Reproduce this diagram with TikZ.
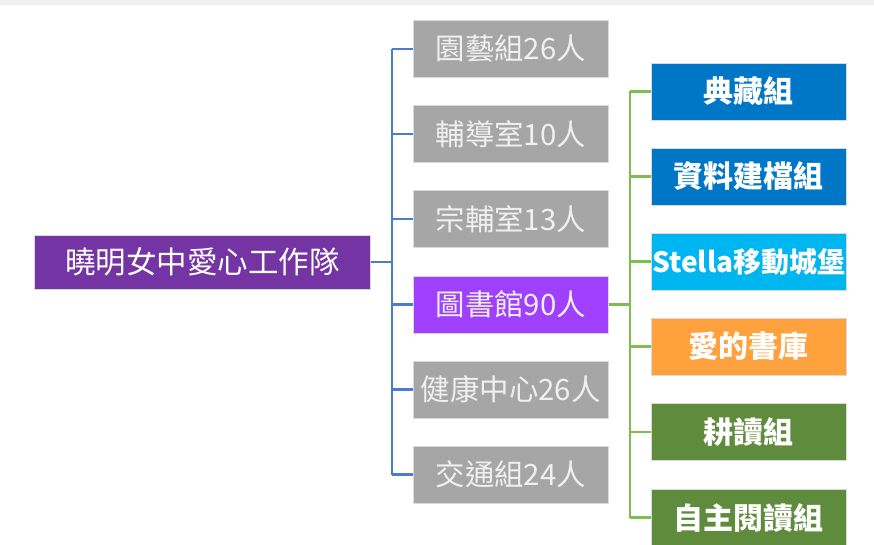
\documentclass[tikz,border=0pt]{standalone}
\usepackage{fontspec}
\newfontfamily\cjk{Noto Sans CJK TC}
\definecolor{rootpurple}{HTML}{7434A4}
\definecolor{libpurple}{HTML}{A040FF}
\definecolor{midgray}{HTML}{A6A6A6}
\definecolor{linkblue}{HTML}{4A7BD0}
\definecolor{linkgreen}{HTML}{7CBF4E}
\definecolor{boxblue}{HTML}{0077C6}
\definecolor{boxcyan}{HTML}{00B6F0}
\definecolor{boxorange}{HTML}{FFA23E}
\definecolor{boxgreen}{HTML}{5E8C3C}
\definecolor{topstrip}{HTML}{EFF0F0}
\begin{document}
\begin{tikzpicture}[x=1pt,y=-1pt,
  box/.style={draw=white!85!black, line width=0.6pt, minimum height=57pt, inner sep=0pt, text=white, anchor=west},
  midbox/.style={box, fill=midgray, minimum width=195pt, font=\cjk\fontsize{29.4}{32}\selectfont, text=white!94!black},
  rightbox/.style={box, minimum width=195pt, font=\cjk\bfseries\fontsize{30}{32}\selectfont},
  bluelink/.style={draw=linkblue, line width=2.5pt},
  greenlink/.style={draw=linkgreen, line width=2.5pt}]
\useasboundingbox (0,0) rectangle (874,545);
\begin{scope}
\clip (0,0) rectangle (874,545);
\fill[white] (0,0) rectangle (874,545);
\fill[topstrip] (0,0) rectangle (874,5);
\node[box, fill=rootpurple, minimum width=336pt, minimum height=54pt, font=\cjk\fontsize{30.5}{32}\selectfont] (root) at (34,262) {曉明女中愛心工作隊};
\node[midbox] (m1) at (413,49) {園藝組26人};
\node[midbox] (m2) at (413,134) {輔導室10人};
\node[midbox] (m3) at (413,219) {宗輔室13人};
\node[midbox, fill=libpurple] (m4) at (413,304.5) {圖書館90人};
\node[midbox] (m5) at (413,389.5) {健康中心26人};
\node[midbox] (m6) at (413,474.5) {交通組24人};
\node[rightbox, fill=boxblue] (r1) at (651,91.5) {典藏組};
\node[rightbox, fill=boxblue] (r2) at (651,176.5) {資料建檔組};
\node[rightbox, fill=boxcyan, font=\cjk\bfseries\fontsize{28}{32}\selectfont] (r3) at (651,261.5) {Stella移動城堡};
\node[rightbox, fill=boxorange] (r4) at (651,346.5) {愛的書庫};
\node[rightbox, fill=boxgreen] (r5) at (651,432) {耕讀組};
\node[rightbox, fill=boxgreen] (r6) at (651,517.5) {自主閱讀組};
\coordinate (bj) at (392,262);
\coordinate (gj) at (630,304.5);
\draw[bluelink] (root.east) -- (bj);
\foreach \n in {m1,m2,m3,m4,m5,m6}
  \draw[bluelink] (bj |- \n.west) -- (\n.west);
\draw[bluelink] (bj |- m1.west) -- (bj |- m6.west);
\draw[greenlink] (m4.east) -- (gj);
\foreach \n in {r1,r2,r3,r4,r5,r6}
  \draw[greenlink] (gj |- \n.west) -- (\n.west);
\draw[greenlink] (gj |- r1.west) -- (gj |- r6.west);
\end{scope}
\end{tikzpicture}
\end{document}
